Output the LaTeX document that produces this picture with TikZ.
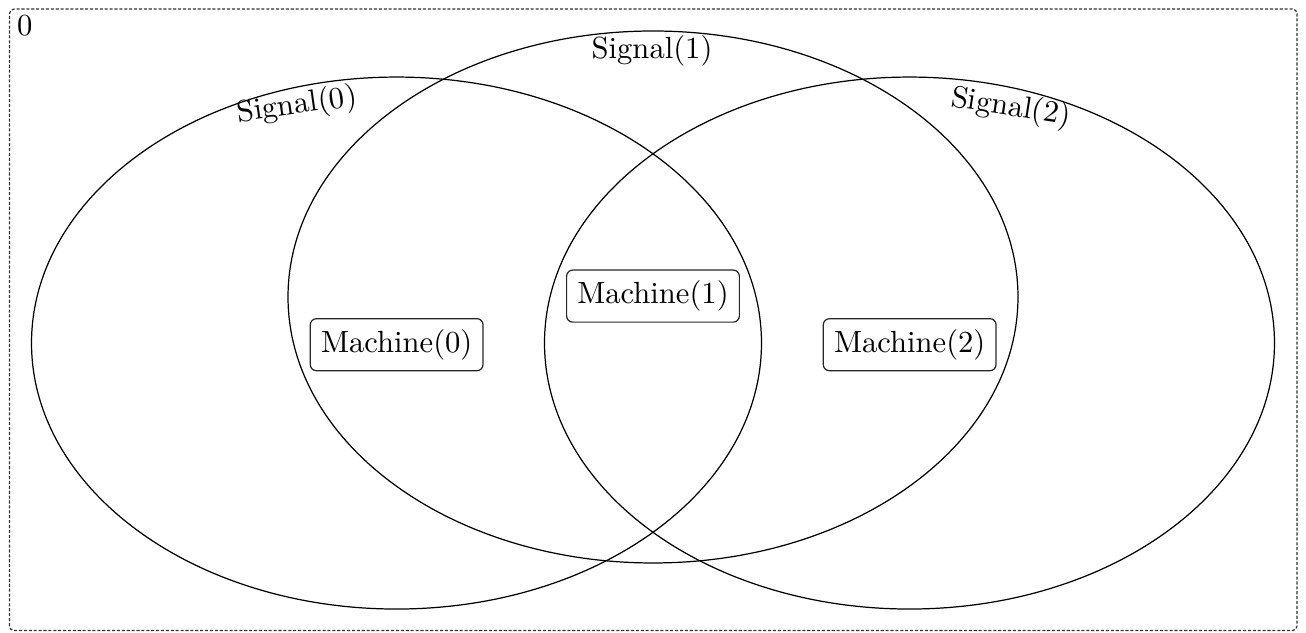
\documentclass[tikz,border=0pt]{standalone}
\usetikzlibrary{positioning}
\tikzset{
  frame/.style={draw=black!80, line width=0.4pt, dash pattern=on 1pt off 0.6pt, rounded corners=1.5pt},
  region/.style={draw=black, line width=0.4pt},
  machine/.style={draw=black!85, line width=0.4pt, rounded corners=2pt, inner sep=3.5pt},
  signal/.style={inner sep=1pt},
}
\begin{document}
\begin{tikzpicture}[x=1cm,y=1cm]
  \useasboundingbox (0,0) rectangle (15,7.259);
  % outer frame and its label
  \draw[frame] (0.109,0.017) rectangle (14.897,7.155);
  \node (lbl) at (0.285,6.960) {0};
  % centres of the three regions
  \coordinate (c0) at (4.554,3.319);
  \coordinate (c1) at (7.500,3.848);
  \coordinate (c2) at (10.446,3.319);
  \draw[region] (c0) ellipse [x radius=4.192, y radius=3.055];
  \draw[region] (c1) ellipse [x radius=4.192, y radius=3.055];
  \draw[region] (c2) ellipse [x radius=4.192, y radius=3.055];
  % region labels
  \node[signal, rotate=8] (s0) at (3.411,6.041) {Signal(0)};
  \node[signal] (s1) at (7.489,6.675) {Signal(1)};
  \node[signal, rotate=-9] (s2) at (11.612,6.018) {Signal(2)};
  % machines
  \node[machine] (m0) at (4.556,3.300) {Machine(0)};
  \node[machine] (m1) at (7.500,3.858) {Machine(1)};
  \node[machine] (m2) at (10.448,3.300) {Machine(2)};
\end{tikzpicture}
\end{document}
